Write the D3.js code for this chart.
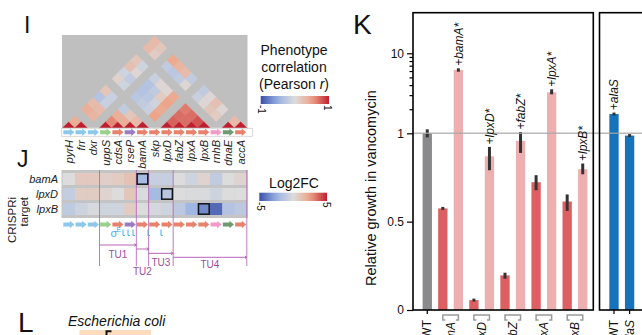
<!DOCTYPE html>
<html>
<head>
<meta charset="utf-8">
<script src="https://cdn.jsdelivr.net/npm/d3@7"></script>
<style>
  body { margin: 0; background: #fff; }
  svg { display: block; font-family: "Liberation Sans", Arial, sans-serif; }
</style>
</head>
<body>
<div id="chart"></div>
<script>
// ---------- operon genes (panels I and J)
const genes = ['pyrH','frr','dxr','uppS','cdsA','rseP','bamA','skp','lpxD','fabZ','lpxA','lpxB','rnhB','dnaE','accA'];
const geneColors = ['#8cc8ec','#8cc8ec','#8cc8ec','#98d08c','#e8826c','#9a7cc4','#e8826c','#e8826c',
                    '#e8826c','#e8826c','#e8826c','#e8826c','#f49ac9','#6e9a72','#e8826c'];

// genes with phenotype data (dxr, skp, rnhB missing)
const corrGenes = ['pyrH','frr','uppS','cdsA','rseP','bamA','lpxD','fabZ','lpxA','lpxB','dnaE','accA'];
// upper triangle of Pearson r: row i against corrGenes[i+1 ...]
const corrRows = [
  [0.40, 0.40, 0.30, -0.30, 0.20, 0.10, -0.10, 0.25, 0.20, 0.30, 0.30],
  [0.35, 0.30, -0.15, -0.15, -0.10, -0.20, 0.05, -0.10, 0.15, 0.20],
  [0.60, 0.40, -0.20, -0.25, -0.30, -0.30, -0.15, -0.20, 0.45],
  [0.40, 0.20, -0.20, -0.25, -0.20, 0.05, -0.25, 0.35],
  [0.30, -0.15, -0.10, 0.15, 0.05, -0.20, 0.30],
  [0.50, 0.45, 0.50, 0.45, 0.05, -0.20],
  [0.75, 0.70, 0.65, -0.15, -0.20],
  [0.70, 0.70, 0.05, 0.05],
  [0.80, 0.20, 0.25],
  [0.15, 0.05],
  [0.30]
];

// CRISPRi log2 fold change per gene
const crisprTargets = ['bamA','lpxD','lpxB'];
const fcBamA = [0, 0.9, 0.9, 0.6, 0.7, 1.2, -2.0, -0.8, -0.8, 0, -0.5, 0.4, -1.0, 0, 0.4];
const fcLpxD = [-0.9, 0.7, 0.7, 0.4, 0, 1.0, -0.1, -2.0, -1.3, 0, -0.1, -0.1, -0.5, 0, 0];
const fcLpxB = [-1.1, -0.6, -0.2, -0.5, -0.5, 0.7, 0, -0.3, -0.5, -1.2, -2.2, -3.5, -4.3, -1.5, -1.2];

const tuNames = ['TU1','TU2','TU3','TU4'];
const tuFirst = ['uppS','bamA','skp','fabZ'];
const tuLast  = ['rseP','bamA','lpxD','accA'];

// ---------- panel K
const growthCats = ['WT','bamA','+bamA*','lpxD','+lpxD*','fabZ','+fabZ*','lpxA','+lpxA*','lpxB','+lpxB*'];
const growthVals = [1.0, 0.575, 6.2, 0.056, 0.87, 0.196, 0.957, 0.723, 3.26, 0.614, 0.797];
const growthLo   = [0.977, 0.567, 5.89, 0.05, 0.791, 0.177, 0.889, 0.678, 3.07, 0.561, 0.768];
const growthHi   = [1.12, 0.583, 6.49, 0.062, 0.923, 0.211, 1.038, 0.763, 3.55, 0.654, 0.829];
const knockdowns = ['bamA','lpxD','fabZ','lpxA','lpxB'];
const alaCats = ['WT','alaS'];
const alaVals = [1.74, 0.987];
const alaLo   = [1.68, 0.981];
const alaHi   = [1.81, 0.994];
const linTicks = [0, 0.5, 1];
const logTicks = [10];
const minorTicks = [2, 3, 4, 5, 6, 7, 8, 9];

const svg = d3.select('#chart').append('svg').attr('width', 642).attr('height', 335);
svg.append('rect').attr('width', 642).attr('height', 335).attr('fill', '#fff');

const divColor = d3.scaleLinear().domain([-1, -0.5, 0, 0.5, 1])
  .range(['#3b4ea6', '#98b2e4', '#dcdcdc', '#eea488', '#bf1e2e']);
const fcColor = d3.scaleLinear().domain([-5, -2.5, 0, 2.5, 5])
  .range(['#3b4ea6', '#98b2e4', '#dcdcdc', '#eea488', '#bf1e2e']);

const gx = d3.scaleBand().domain(genes).range([62.7, 246.8]);
const gw = gx.bandwidth();
const gc = g => gx(g) + gw / 2;

function label(t, x, y, size, opts = {}) {
  return svg.append('text').attr('x', x).attr('y', y).attr('font-size', size)
    .attr('fill', opts.fill || '#111').attr('text-anchor', opts.anchor || 'start')
    .attr('font-style', opts.italic ? 'italic' : null).text(t);
}

function drawArrows(yc) {
  svg.append('g').selectAll('path').data(genes).join('path')
    .attr('d', g => {
      const x0 = gx(g) + 0.6, x1 = gx(g) + gw - 0.6, xh = x1 - 4.5;
      return `M${x0},${yc - 2}H${xh}V${yc - 3.8}L${x1},${yc}L${xh},${yc + 3.8}V${yc + 2}H${x0}Z`;
    })
    .attr('fill', (g, i) => geneColors[i]);
}

// ---------- I: correlation triangle
const base = 127.8;
svg.append('rect').attr('x', 62).attr('y', 35).attr('width', 185.5).attr('height', base - 35).attr('fill', '#bfbfbf');

const cells = [];
corrGenes.forEach((a, i) => {
  cells.push({ a, b: a, r: 1 });
  (corrRows[i] || []).forEach((r, k) => cells.push({ a, b: corrGenes[i + 1 + k], r }));
});
svg.append('g').selectAll('path').data(cells).join('path')
  .attr('d', d => {
    const ia = genes.indexOf(d.a), ib = genes.indexOf(d.b), h = gw / 2;
    const cx = (gc(d.a) + gc(d.b)) / 2, cy = base - (ib - ia) * h;
    if (ia === ib) return `M${cx - h},${base}L${cx},${base - h}L${cx + h},${base}Z`;
    return `M${cx},${cy - h}L${cx + h},${cy}L${cx},${cy + h}L${cx - h},${cy}Z`;
  })
  .attr('fill', d => divColor(d.r))
  .attr('stroke', d => divColor(d.r)).attr('stroke-width', 0.3);

svg.append('rect').attr('x', 61.5).attr('y', 128.3).attr('width', 191).attr('height', 8)
  .attr('fill', '#fff').attr('stroke', '#d0d0d0').attr('stroke-width', 0.8);
drawArrows(132.3);

svg.append('g').selectAll('text').data(genes).join('text')
  .attr('transform', g => `translate(${gc(g)},140) rotate(-90)`)
  .attr('dy', '0.35em').attr('text-anchor', 'end')
  .attr('font-size', 11).attr('font-style', 'italic').attr('fill', '#222')
  .text(g => g);

// ---------- J: CRISPRi heatmap
const ry = d3.scaleBand().domain(crisprTargets).range([171.5, 216.5]).paddingInner(0.2).paddingOuter(0.1);
const fcRows = [fcBamA, fcLpxD, fcLpxB];
svg.append('rect').attr('x', 61.5).attr('y', 170).attr('width', 186.3).attr('height', 48).attr('fill', '#c4c4c4');
crisprTargets.forEach((t, r) => {
  svg.append('g').selectAll('rect').data(fcRows[r]).join('rect')
    .attr('x', (v, i) => gx(genes[i])).attr('y', ry(t))
    .attr('width', gw + 0.3).attr('height', ry.bandwidth())
    .attr('fill', v => fcColor(v));
});

// transcription unit boundaries (drawn under the target boxes)
const tuCol = '#b766b7';
const tuEdges = tuFirst.map(g => gx(g)).concat([gx('accA') + gw]);
svg.append('g').selectAll('line').data(tuEdges).join('line')
  .attr('x1', x => x).attr('x2', x => x).attr('y1', 170).attr('y2', 266)
  .attr('stroke', tuCol).attr('stroke-width', 1).attr('opacity', 0.85);

svg.append('g').selectAll('rect').data(crisprTargets).join('rect')
  .attr('x', t => gx(t) + 0.8).attr('y', t => ry(t) + 0.8)
  .attr('width', gw - 1.6).attr('height', ry.bandwidth() - 1.6)
  .attr('fill', 'none').attr('stroke', '#151515').attr('stroke-width', 1.5);
svg.append('g').selectAll('text').data(crisprTargets).join('text')
  .attr('x', 58).attr('y', t => ry(t) + ry.bandwidth() / 2).attr('dy', '0.35em')
  .attr('text-anchor', 'end').attr('font-size', 11).attr('font-style', 'italic').attr('fill', '#222')
  .text(t => t);

svg.append('text').attr('transform', 'translate(16,197) rotate(-90)').attr('text-anchor', 'end')
  .attr('font-size', 11.5).attr('fill', '#222').text('CRISPRi');
svg.append('text').attr('transform', 'translate(28,197) rotate(-90)').attr('text-anchor', 'end')
  .attr('font-size', 11.5).attr('fill', '#222').text('target');

drawArrows(224.5);

// promoter marks
const promoterCol = '#4aaee6';
label('σ', 110.5, 236.5, 11, { fill: promoterCol });
label('E', 116.5, 232, 7, { fill: promoterCol });
svg.append('g').selectAll('path').data([123, 128, 133, 148, 161]).join('path')
  .attr('d', x => `M${x},229.5V235.5H${x + 2}`)
  .attr('fill', 'none').attr('stroke', promoterCol).attr('stroke-width', 1);

// transcription units
const tuY = [245, 249, 253.3, 257.3];
const tuLabelY = [257.5, 275, 265.5, 267.5];
tuNames.forEach((n, k) => {
  const x1 = gx(tuFirst[k]), x2 = gx(tuLast[k]) + gw, y = tuY[k];
  svg.append('path').attr('d', `M${x1},${y}H${x2}M${x2 - 2},${y - 1.3}L${x2},${y}L${x2 - 2},${y + 1.3}`)
    .attr('fill', 'none').attr('stroke', tuCol).attr('stroke-width', 1);
  label(n, (x1 + x2) / 2, tuLabelY[k], 10, { anchor: 'middle', fill: '#9c4f9c' });
});

// ---------- legends
const defs = svg.append('defs');
const grad = defs.append('linearGradient').attr('id', 'divg');
d3.range(0, 1.001, 0.1).forEach(t => grad.append('stop')
  .attr('offset', t).attr('stop-color', divColor(-1 + 2 * t)));

label('Phenotype', 294, 55, 14, { anchor: 'middle' });
label('correlation', 294, 72, 14, { anchor: 'middle' });
const pt = label('(Pearson ', 294, 89, 14, { anchor: 'middle' });
pt.append('tspan').attr('font-style', 'italic').text('r');
pt.append('tspan').text(')');
svg.append('rect').attr('x', 260.7).attr('y', 96).attr('width', 68.3).attr('height', 8).attr('fill', 'url(#divg)');
label('Log2FC', 294, 187.5, 14, { anchor: 'middle' });
svg.append('rect').attr('x', 259.3).attr('y', 192.7).attr('width', 67.7).attr('height', 8.3).attr('fill', 'url(#divg)');

[[261.5, 105, '-1'], [327.5, 105, '1'], [260.5, 202, '-5'], [326, 202, '5']].forEach(([x, y, t]) => {
  svg.append('text').attr('transform', `translate(${x},${y}) rotate(90)`)
    .attr('dy', '0.35em').attr('font-size', 10).attr('fill', '#111').text(t);
});

// ---------- panel letters and E. coli
label('I', 24, 33.3, 23);
label('J', 17, 167, 23);
label('K', 353, 34, 28);
label('L', 18, 332, 28);
label('Escherichia coli', 68, 325.5, 14, { italic: true });
svg.append('rect').attr('x', 79.5).attr('y', 330).attr('width', 71.5).attr('height', 10).attr('fill', '#fcdcbc');
svg.append('path').attr('d', 'M106.5,336V331.3H111.5').attr('fill', 'none').attr('stroke', '#111').attr('stroke-width', 2);

// ---------- K: bar chart with split y scale
const yLin = d3.scaleLinear().domain([0, 1]).range([310, 133.3]);
const yLog = d3.scaleLog().domain([1, 10]).range([133.3, 53.3]);
const y = v => (v <= 1 ? yLin(v) : yLog(v));

const kx1 = d3.scaleBand().domain(growthCats).range([419.5, 590.5]);
const kx2 = d3.scaleBand().domain(alaCats).range([606.2, 637.4]);
const barW = kx1.bandwidth() * 0.6;

const kindColor = c => c === 'WT' ? '#8a8a8d' : (c[0] === '+' ? '#edafb0' : '#dc6062');

function bars(xs, cats, vals, lo, hi, colorFn) {
  const g = svg.append('g');
  g.selectAll('rect').data(cats).join('rect')
    .attr('x', c => xs(c) + (xs.bandwidth() - barW) / 2)
    .attr('y', (c, i) => y(vals[i]))
    .attr('width', barW)
    .attr('height', (c, i) => 310 - y(vals[i]))
    .attr('fill', colorFn);
  g.selectAll('line').data(cats).join('line')
    .attr('x1', c => xs(c) + xs.bandwidth() / 2).attr('x2', c => xs(c) + xs.bandwidth() / 2)
    .attr('y1', (c, i) => Math.max(y(lo[i]), y(vals[i]) + 1.5))
    .attr('y2', (c, i) => Math.min(y(hi[i]), y(vals[i]) - 1.5))
    .attr('stroke', '#333').attr('stroke-width', 3);
}
bars(kx1, growthCats, growthVals, growthLo, growthHi, kindColor);
bars(kx2, alaCats, alaVals, alaLo, alaHi, () => '#1473ba');

// reference line at 1
svg.append('line').attr('x1', 413).attr('x2', 642).attr('y1', y(1)).attr('y2', y(1))
  .attr('stroke', '#a8a8a8').attr('stroke-width', 1.5).attr('opacity', 0.8);

// frames
svg.append('rect').attr('x', 413).attr('y', 12.7).attr('width', 180.3).attr('height', 297.3)
  .attr('fill', 'none').attr('stroke', '#000').attr('stroke-width', 1.6);
svg.append('rect').attr('x', 599.5).attr('y', 12.7).attr('width', 80).attr('height', 297.3)
  .attr('fill', 'none').attr('stroke', '#000').attr('stroke-width', 1.6);

// y axis
const axLin = svg.append('g').attr('transform', 'translate(413,0)')
  .call(d3.axisLeft(yLin).tickValues(linTicks).tickFormat(d3.format('')).tickSize(6).tickPadding(3));
const axLog = svg.append('g').attr('transform', 'translate(413,0)')
  .call(d3.axisLeft(yLog).tickValues(logTicks).tickFormat(d3.format('')).tickSize(6).tickPadding(3));
const axMinor = svg.append('g').attr('transform', 'translate(413,0)')
  .call(d3.axisLeft(yLog).tickValues(minorTicks).tickFormat('').tickSize(3.5));
[axLin, axLog, axMinor].forEach(a => {
  a.select('.domain').remove();
  a.selectAll('line').attr('stroke', '#000').attr('stroke-width', 1.2);
  a.selectAll('text').attr('font-size', 12).attr('fill', '#111')
    .attr('font-family', '"Liberation Sans", Arial, sans-serif');
});
svg.append('text').attr('transform', 'translate(376,188) rotate(-90)')
  .attr('text-anchor', 'middle').attr('font-size', 14.5).attr('fill', '#111')
  .text('Relative growth in vancomycin');

// labels above suppressor bars
const topLabels1 = growthCats.map(c => (c[0] === '+' ? c : ''));
const topLabels2 = ['+alaS', ''];
function topLabels(xs, cats, hi, labels) {
  svg.append('g').selectAll('text').data(cats).join('text')
    .attr('transform', (c, i) => `translate(${xs(c) + xs.bandwidth() / 2},${y(hi[i]) - 2.5}) rotate(-90)`)
    .attr('dy', '0.35em').attr('font-size', 12).attr('font-style', 'italic').attr('fill', '#111')
    .text((c, i) => labels[i]);
}
topLabels(kx1, growthCats, growthHi, topLabels1);
topLabels(kx2, alaCats, alaHi, topLabels2);

// bottom: ticks for single bars, brackets for knockdown pairs
const singles = [[kx1, 'WT', false], [kx2, 'WT', false], [kx2, 'alaS', true]];
singles.forEach(([xs, c, it]) => {
  const cx = xs(c) + xs.bandwidth() / 2;
  svg.append('line').attr('x1', cx).attr('x2', cx).attr('y1', 310).attr('y2', 314)
    .attr('stroke', '#000').attr('stroke-width', 1.2);
  svg.append('text').attr('transform', `translate(${cx},320) rotate(-90)`)
    .attr('dy', '0.35em').attr('text-anchor', 'end').attr('font-size', 12)
    .attr('font-style', it ? 'italic' : null).attr('fill', '#111').text(c);
});
knockdowns.forEach(k => {
  const a = kx1(k) + kx1.bandwidth() / 2, b = kx1('+' + k + '*') + kx1.bandwidth() / 2;
  svg.append('path').attr('d', `M${a + 2.5},320H${a}V315H${b}V320H${b - 2.5}`)
    .attr('fill', 'none').attr('stroke', '#9a9a9a').attr('stroke-width', 1.5);
  svg.append('text').attr('transform', `translate(${(a + b) / 2},322) rotate(-90)`)
    .attr('dy', '0.35em').attr('text-anchor', 'end').attr('font-size', 12)
    .attr('font-style', 'italic').attr('fill', '#111').text(k);
});
</script>
</body>
</html>
